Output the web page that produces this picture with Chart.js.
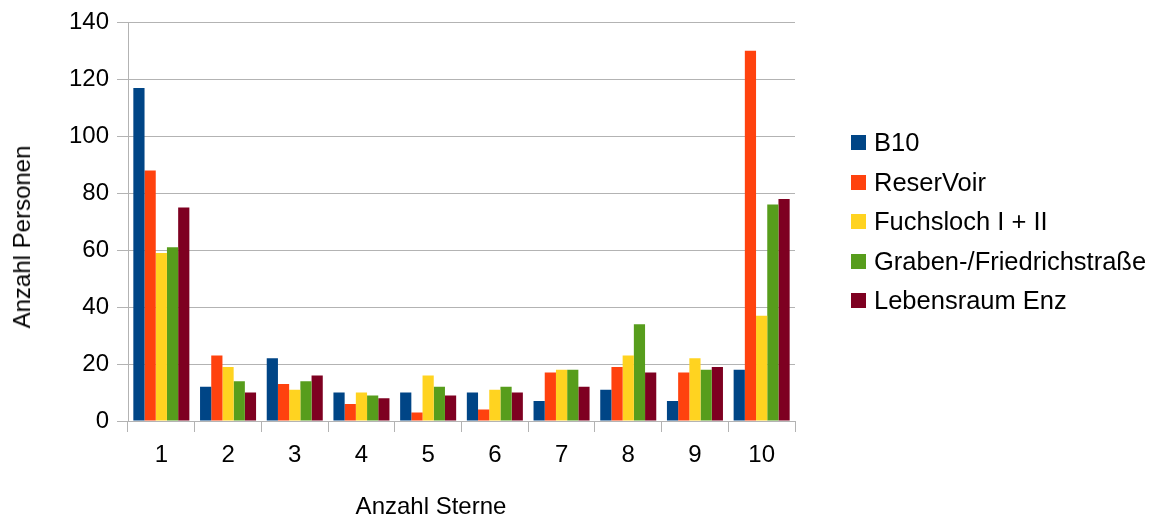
<!DOCTYPE html>
<html>
<head>
<meta charset="utf-8">
<script src="https://cdn.jsdelivr.net/npm/chart.js@4.4.1/dist/chart.umd.min.js"></script>
<style>
  html, body { margin: 0; padding: 0; background: #fff; }
  #wrap { position: relative; width: 1160px; height: 519px; font-family: "Liberation Sans", Arial, sans-serif; color: #000; }
  canvas { position: absolute; left: 0; top: 0; }
  .ytitle { position: absolute; left: 22px; top: 237px; transform: translate(-50%, -50%) rotate(-90deg); font-size: 24px; white-space: nowrap; }
  .xtitle { position: absolute; left: 431px; top: 506px; transform: translate(-50%, -50%); font-size: 24px; white-space: nowrap; }
  .legend { position: absolute; left: 851px; top: 123px; }
  .legend .item { display: flex; align-items: center; height: 39.5px; font-size: 25.5px; white-space: nowrap; }
  .legend .box { width: 15px; height: 15px; margin-right: 8px; }
</style>
</head>
<body>
<div id="wrap">
  <canvas id="c" width="1160" height="519"></canvas>
  <div class="ytitle" id="ytitle"></div>
  <div class="xtitle" id="xtitle"></div>
  <div class="legend" id="legend"></div>
</div>
<script>
const categories = ["1", "2", "3", "4", "5", "6", "7", "8", "9", "10"];
const seriesNames = ["B10", "ReserVoir", "Fuchsloch I + II", "Graben-/Friedrichstraße", "Lebensraum Enz"];
const b10 = [117, 12, 22, 10, 10, 10, 7, 11, 7, 18];
const reserVoir = [88, 23, 13, 6, 3, 4, 17, 19, 17, 130];
const fuchsloch = [59, 19, 11, 10, 16, 11, 18, 23, 22, 37];
const graben = [61, 14, 14, 9, 12, 12, 18, 34, 18, 76];
const lebensraum = [75, 10, 16, 8, 9, 10, 12, 17, 19, 78];
const colors = ["#004586", "#ff420e", "#ffd320", "#579d1c", "#7e0021"];
const yTicks = [0, 20, 40, 60, 80, 100, 120, 140];
const xTitle = "Anzahl Sterne";
const yTitle = "Anzahl Personen";

const allValues = [b10, reserVoir, fuchsloch, graben, lebensraum];
const gridColor = "#b3b3b3";
const font = { family: "'Liberation Sans', Arial, sans-serif", size: 24 };

document.getElementById("ytitle").textContent = yTitle;
document.getElementById("xtitle").textContent = xTitle;
const legend = document.getElementById("legend");
seriesNames.forEach((n, i) => {
  const it = document.createElement("div");
  it.className = "item";
  const b = document.createElement("div");
  b.className = "box";
  b.style.background = colors[i];
  const t = document.createElement("span");
  t.textContent = n;
  it.appendChild(b); it.appendChild(t);
  legend.appendChild(it);
});

new Chart(document.getElementById("c"), {
  type: "bar",
  data: {
    labels: categories,
    datasets: seriesNames.map((n, i) => ({
      label: n,
      data: allValues[i],
      backgroundColor: colors[i],
      borderWidth: 0,
      categoryPercentage: 0.84,
      barPercentage: 1.0
    }))
  },
  options: {
    responsive: false,
    animation: false,
    devicePixelRatio: 1,
    layout: { padding: { left: 0, top: 16, right: 365, bottom: 0 } },
    plugins: { legend: { display: false }, tooltip: { enabled: false } },
    scales: {
      x: {
        offset: true,
        grid: {
          offset: true,
          drawOnChartArea: true,
          color: (ctx) => (ctx.index === categories.length ? gridColor : "transparent"),
          tickColor: gridColor,
          tickLength: 11,
          lineWidth: 1
        },
        border: { color: gridColor, width: 1 },
        ticks: { color: "#000", font: font, padding: 9, maxRotation: 0 },
        afterFit: (s) => { s.height = 98; }
      },
      y: {
        min: 0,
        max: 140,
        afterBuildTicks: (s) => { s.ticks = yTicks.map(v => ({ value: v })); },
        grid: { color: gridColor, tickColor: gridColor, tickLength: 11, lineWidth: 1 },
        border: { color: gridColor, width: 1 },
        ticks: { color: "#000", font: font, padding: 8 },
        afterFit: (s) => { s.width = 128; }
      }
    }
  }
});
</script>
</body>
</html>
